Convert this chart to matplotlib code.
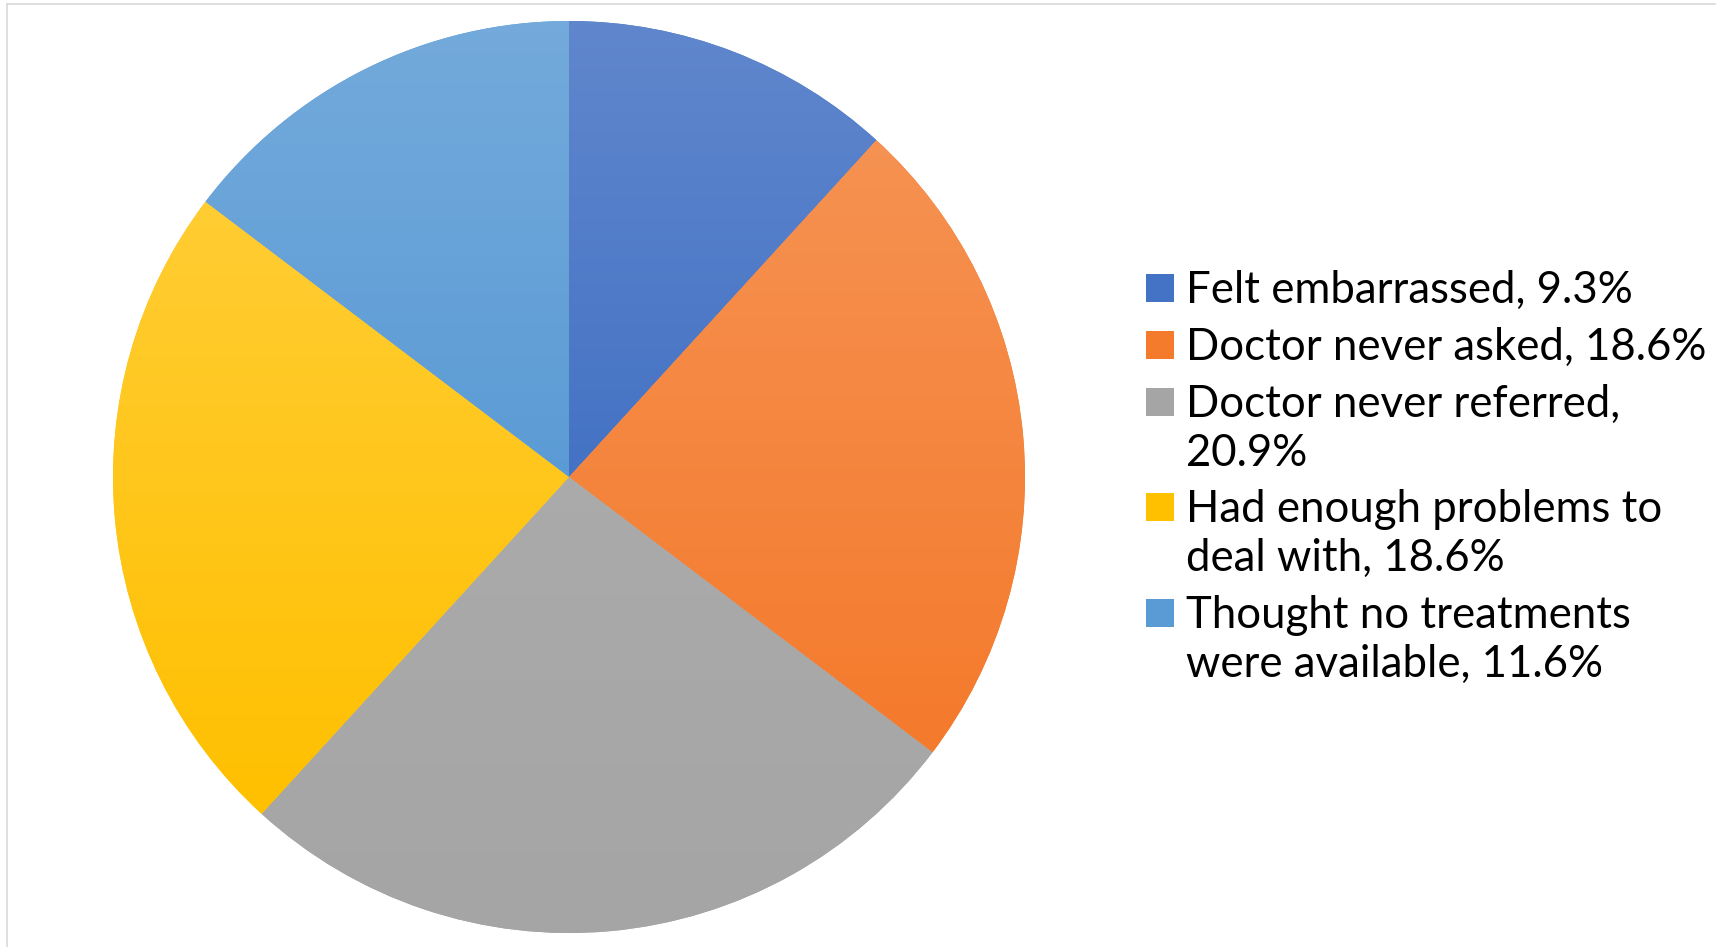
import matplotlib
matplotlib.use("Agg")
import matplotlib.pyplot as plt
from matplotlib.patches import Rectangle
from matplotlib.lines import Line2D
from matplotlib.colors import to_rgb
import numpy as np

# data
categories = ["Felt embarrassed", "Doctor never asked", "Doctor never referred",
              "Had enough problems to deal with", "Thought no treatments were available"]
values = [9.3, 18.6, 20.9, 18.6, 11.6]
legend_labels = ["Felt embarrassed, 9.3%",
                 "Doctor never asked, 18.6%",
                 "Doctor never referred,\n20.9%",
                 "Had enough problems to\ndeal with, 18.6%",
                 "Thought no treatments\nwere available, 11.6%"]
colors = ["#4472C4", "#F47A2C", "#A5A5A5", "#FFC000", "#5B9BD5"]
tints = [0.15, 0.18, 0.06, 0.2, 0.15]

W, H = 1716, 947
fig = plt.figure(figsize=(W / 100, H / 100), dpi=100)
fig.patch.set_facecolor("white")


def fx(px):
    return px / W


def fy(py):
    return 1 - py / H


# pie axes, centre ~ (569, 477), radius ~456 px
cx, cy, r = 569, 477, 456
ax = fig.add_axes([fx(cx - r), fy(cy + r), 2 * r / W, 2 * r / H])

wedges, _ = ax.pie(values, colors=colors, startangle=90, counterclock=False,
                   radius=1, wedgeprops=dict(linewidth=0))

# light-to-dark vertical gradient on each slice, like the office default
for w, c, k in zip(wedges, colors, tints):
    base = np.array(to_rgb(c))
    top = base + (1 - base) * k
    verts = w.get_path().vertices
    x0, x1 = verts[:, 0].min(), verts[:, 0].max()
    y0, y1 = verts[:, 1].min(), verts[:, 1].max()
    t = np.linspace(0, 1, 256)[:, None]
    img = (top[None, :] * (1 - t) + base[None, :] * t)[:, None, :]
    im = ax.imshow(img, extent=[x0, x1, y0, y1], origin="upper",
                   aspect="auto", interpolation="bilinear", zorder=2)
    im.set_clip_path(w)

ax.set_xlim(-1, 1)
ax.set_ylim(-1, 1)
ax.set_aspect("equal")
ax.axis("off")

# legend drawn by hand so the wrapped lines sit like the original
text_x = 1186
box_x, box_size = 1146, 28
line_h = 48.5
entry_h = 57
y = 303
for lab, c in zip(legend_labels, colors):
    fig.patches.append(Rectangle((fx(box_x), fy(y - 1)), box_size / W, box_size / H,
                                 transform=fig.transFigure, facecolor=c,
                                 edgecolor="none"))
    lines = lab.split("\n")
    for i, ln in enumerate(lines):
        fig.text(fx(text_x), fy(y), ln, fontsize=31.5, family="Lato",
                 va="baseline", ha="left", color="black")
        if i < len(lines) - 1:
            y += line_h
    y += entry_h

# thin chart-area border (top and left visible)
fig.lines.append(Line2D([fx(7), 1], [fy(4), fy(4)], transform=fig.transFigure,
                        color="#d9d9d9", linewidth=1.2))
fig.lines.append(Line2D([fx(7), fx(7)], [fy(4), 0], transform=fig.transFigure,
                        color="#d9d9d9", linewidth=1.2))

fig.savefig("out.png", dpi=100)
